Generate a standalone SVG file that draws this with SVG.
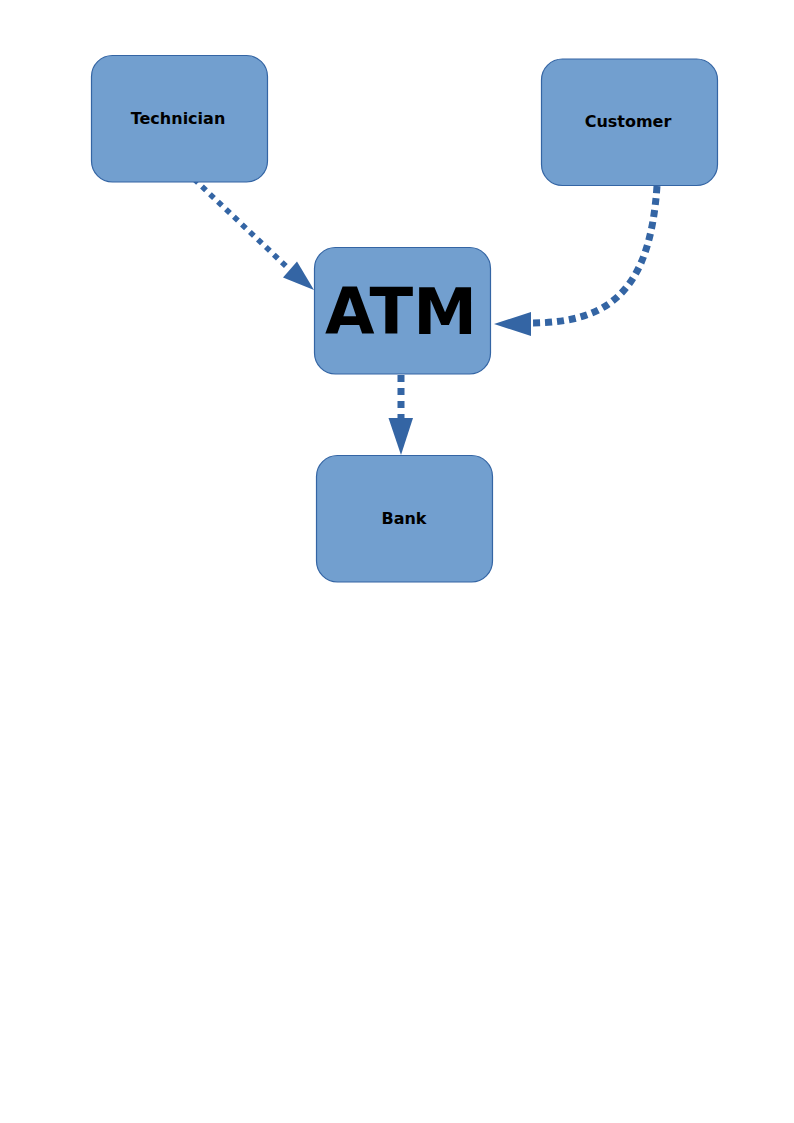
<svg xmlns="http://www.w3.org/2000/svg" width="794" height="1123" viewBox="0 0 794 1123">
<style>
.box{fill:#729fcf;stroke:#3465a4;stroke-width:1.2}
.lbl{font-family:"DejaVu Sans",sans-serif;font-weight:bold;font-size:16px;fill:#000;text-anchor:middle}
.big{font-size:64px}
.ln{fill:none;stroke:#3465a4}
.head{fill:#3465a4}
</style>
<rect width="794" height="1123" fill="#fff"/>
<g id="connectors">
<path class="ln" d="M194,179 L289,269" stroke-width="5.5" stroke-dasharray="5.5,5.5"/>
<polygon class="head" points="314,290 283,277.5 297,261.5"/>
<path class="ln" d="M657,186 C650,290 610,323 531,323" stroke-width="7" stroke-dasharray="7,5"/>
<polygon class="head" points="494,324 531,312 531,336"/>
<path class="ln" d="M401,375 L401,419" stroke-width="7" stroke-dasharray="7,6"/>
<polygon class="head" points="401,455 388.5,418 413,418"/>
</g>
<g id="technician">
<rect class="box" x="91.5" y="55.5" width="176" height="126.5" rx="21"/>
<text class="lbl" x="178" y="124">Technician</text>
</g>
<g id="customer">
<rect class="box" x="541.5" y="59" width="176" height="126.5" rx="21"/>
<text class="lbl" x="628" y="127">Customer</text>
</g>
<g id="atm">
<rect class="box" x="314.5" y="247.5" width="176" height="126.5" rx="21"/>
<text class="lbl big" x="401" y="334">ATM</text>
</g>
<g id="bank">
<rect class="box" x="316.5" y="455.5" width="176" height="126.5" rx="21"/>
<text class="lbl" x="404" y="524">Bank</text>
</g>
</svg>
